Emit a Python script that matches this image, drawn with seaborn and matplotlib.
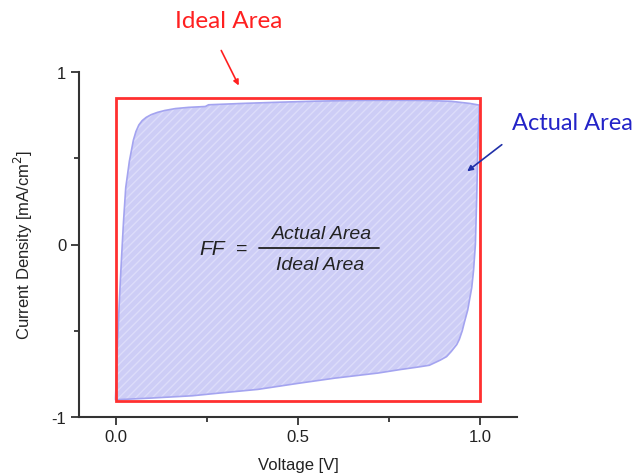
import matplotlib
matplotlib.use("Agg")
import matplotlib.pyplot as plt
import seaborn as sns
import pandas as pd
from matplotlib.patches import Rectangle
from matplotlib.ticker import FixedLocator

# ---- data ----
v_forward = [0.0, 0.002, 0.005, 0.009, 0.013, 0.017, 0.022, 0.028, 0.038, 0.049,
             0.056, 0.064, 0.073, 0.084, 0.098, 0.115, 0.135, 0.164, 0.20, 0.246,
             0.255, 0.35, 0.45, 0.55, 0.65, 0.75, 0.85, 0.92, 0.97, 0.997]
j_forward = [-0.895, -0.78, -0.60, -0.40, -0.22, -0.058, 0.135, 0.329, 0.483, 0.605,
             0.655, 0.693, 0.718, 0.737, 0.753, 0.766, 0.777, 0.788, 0.795, 0.80,
             0.81, 0.818, 0.825, 0.831, 0.835, 0.836, 0.835, 0.83, 0.818, 0.808]
v_reverse = [0.997, 0.993, 0.99, 0.986, 0.981, 0.976, 0.97, 0.965, 0.956, 0.95,
             0.942, 0.935, 0.92, 0.907, 0.89, 0.86, 0.83, 0.78, 0.72, 0.60, 0.50,
             0.39, 0.30, 0.21, 0.10, 0.0]
j_reverse = [0.808, 0.60, 0.30, 0.0, -0.15, -0.25, -0.32, -0.38, -0.45, -0.50,
             -0.55, -0.58, -0.62, -0.65, -0.67, -0.70, -0.71, -0.725, -0.745, -0.775,
             -0.805, -0.84, -0.858, -0.877, -0.89, -0.9]

ideal_v = [0.0, 1.0]
ideal_j = [-0.91, 0.85]

x_ticks = [0.0, 0.5, 1.0]
x_ticklabels = ["0.0", "0.5", "1.0"]
x_minor = [0.25, 0.75]
y_ticks = [-1, 0, 1]
y_ticklabels = ["-1", "0", "1"]
y_minor = [-0.5, 0.5]

# ---- style ----
sns.set_style("ticks")
plt.rcParams["font.family"] = ["Liberation Sans", "DejaVu Sans"]
plt.rcParams["hatch.linewidth"] = 1.0

W, H = 635, 477
fig = plt.figure(figsize=(W / 100, H / 100), dpi=100)
ax = fig.add_axes([79 / W, 59 / H, 438 / W, 345 / H])

loop = pd.DataFrame({
    "V": v_forward + v_reverse,
    "J": j_forward + j_reverse,
})

# filled hatched CV loop
ax.fill(loop["V"], loop["J"], facecolor="#cdcdf6", edgecolor="none", zorder=1)
ax.fill(loop["V"], loop["J"], facecolor="none", edgecolor="#dcdcfa",
        hatch="////", linewidth=0, zorder=1.5)
sns.lineplot(data=loop, x="V", y="J", sort=False, estimator=None, ax=ax,
             color="#a4a4f0", linewidth=1.2, zorder=2)

# ideal rectangle
ax.add_patch(Rectangle((ideal_v[0], ideal_j[0]), ideal_v[1] - ideal_v[0],
                       ideal_j[1] - ideal_j[0], fill=False,
                       edgecolor="#ff3030", linewidth=2.0, zorder=3))

ax.set_xlim(-0.1, 1.1)
ax.set_ylim(-1, 1)
ax.set_xticks(x_ticks)
ax.set_xticklabels(x_ticklabels)
ax.set_yticks(y_ticks)
ax.set_yticklabels(y_ticklabels)
ax.xaxis.set_minor_locator(FixedLocator(x_minor))
ax.yaxis.set_minor_locator(FixedLocator(y_minor))
ax.tick_params(which="major", length=6, width=1.3, color="#333333",
               labelsize=12, pad=3, labelcolor="#222222")
ax.tick_params(which="minor", length=3.5, width=1.3, color="#333333")
for s in ["left", "bottom"]:
    ax.spines[s].set_linewidth(1.5)
    ax.spines[s].set_color("#333333")
sns.despine(ax=ax)

ax.set_xlabel("Voltage [V]", fontsize=12, color="#222222", labelpad=9)
ax.set_ylabel("Current Density [mA/cm$^2$]", fontsize=12, color="#222222",
              labelpad=12)

# formula
fkw = dict(fontsize=14, style="italic", color="#222222", ha="center", va="center")
ax.text(0.264, -0.023, "FF", **{**fkw, "fontsize": 15})
ax.text(0.346, -0.023, "=", **{**fkw, "style": "normal"})
ax.text(0.5646, 0.065, "Actual Area", **fkw)
ax.text(0.560, -0.118, "Ideal Area", **fkw)
ax.plot([0.393, 0.7225], [-0.023, -0.023], color="#222222", linewidth=1.3)

# annotations
fig.text(229 / W, 1 - 22 / H, "Ideal Area", color="#ff2020", fontsize=17.5,
         ha="center", va="center", family=["Lato", "DejaVu Sans"])
fig.text(572 / W, 1 - 124 / H, "Actual Area", color="#2323c8", fontsize=17,
         ha="center", va="center", family=["Lato", "DejaVu Sans"])
ax.annotate("", xy=(240 / W, 1 - 89 / H), xytext=(220 / W, 1 - 49 / H),
            xycoords="figure fraction", textcoords="figure fraction",
            arrowprops=dict(arrowstyle="-|>", color="#ff2020", lw=1.2,
                            mutation_scale=8))
ax.annotate("", xy=(465 / W, 1 - 174 / H), xytext=(504 / W, 1 - 144 / H),
            xycoords="figure fraction", textcoords="figure fraction",
            arrowprops=dict(arrowstyle="-|>", color="#2030a8", lw=1.2,
                            mutation_scale=8))

fig.savefig("out.png", dpi=100)
